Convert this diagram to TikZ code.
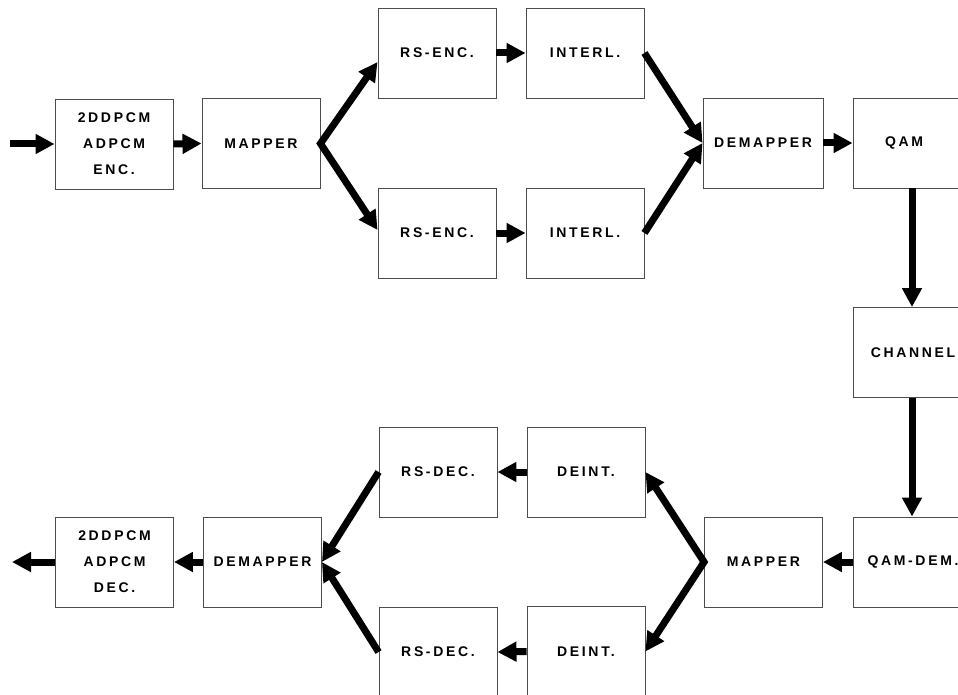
\documentclass[tikz,border=0pt]{standalone}
\usepackage{fontspec}
\newfontfamily\boxfont{Liberation Sans}[LetterSpace=19]
\usetikzlibrary{arrows.meta}
\begin{document}
\begin{tikzpicture}[x=1pt,y=-1pt,
  blk/.style={draw=black!70, line width=0.9pt, minimum width=118pt, minimum height=90pt,
    inner sep=0pt, align=center, font={\boxfont\bfseries\fontsize{14}{26}\selectfont}},
  arr/.style={line width=7pt, line join=miter, -{Triangle[length=19pt,width=19pt]}},
  darr/.style={line width=7pt, line join=miter,
    {Triangle[length=19pt,width=19pt]}-{Triangle[length=19pt,width=19pt]}}]
\useasboundingbox (0,0) rectangle (958,695);
% transmitter
\node[blk] (enc)  at (114,144)   {2DDPCM\\ADPCM\\ENC.};
\node[blk] (map1) at (261,143.5) {MAPPER};
\node[blk] (rs1)  at (437,53)    {RS-ENC.};
\node[blk] (il1)  at (585,53)    {INTERL.};
\node[blk] (rs2)  at (437,233)   {RS-ENC.};
\node[blk] (il2)  at (585,233)   {INTERL.};
\node[blk,minimum width=120pt] (dem1) at (763,143) {DEMAPPER};
\node[blk,minimum width=120pt] (qam)  at (913,143) {\hspace*{-18pt}QAM};
\node[blk,minimum width=120pt] (chan) at (913,352.5) {CHANNEL};
% receiver
\node[blk,minimum width=120pt] (qdem) at (913,562) {QAM-DEM.};
\node[blk] (map2)   at (763.5,562) {MAPPER};
\node[blk] (deint1) at (586,472)   {DEINT.};
\node[blk] (deint2) at (586,651.5) {DEINT.};
\node[blk] (rsd1)   at (438,472)   {RS-DEC.};
\node[blk] (rsd2)   at (438,652)   {RS-DEC.};
\node[blk] (dem2)   at (262.5,562) {DEMAPPER};
\node[blk] (dec)    at (114.5,562) {2DDPCM\\ADPCM\\DEC.};
\coordinate (in)  at (10,144);
\coordinate (out) at (12,562);
% connectors
\draw[arr] (in) -- (enc.west);
\draw[arr] (enc.east) -- (map1.west);
\draw[darr] ([yshift=-9pt]rs1.west) -- (map1.east) -- ([yshift=3pt]rs2.west);
\draw[arr] (rs1.east) -- (il1.west);
\draw[arr] (rs2.east) -- (il2.west);
\draw[arr] (il1.east) -- (dem1.west);
\draw[arr] (il2.east) -- (dem1.west);
\draw[arr] (dem1.east) -- (qam.west);
\draw[arr] ([xshift=-1pt]qam.south) -- ([xshift=-1pt]chan.north);
\draw[arr] ([xshift=-1pt]chan.south) -- ([xshift=-1pt]qdem.north);
\draw[arr] (qdem.west) -- (map2.west -| map2.east);
\draw[darr] (deint1.east) -- (map2.west) -- (deint2.east);
\draw[arr] (deint1.west) -- (rsd1.east);
\draw[arr] (deint2.west) -- (rsd2.east);
\draw[arr] (rsd1.west) -- (dem2.east);
\draw[arr] (rsd2.west) -- (dem2.east);
\draw[arr] (dem2.west) -- (dec.east);
\draw[arr] (dec.west) -- (out);
\end{tikzpicture}
\end{document}
